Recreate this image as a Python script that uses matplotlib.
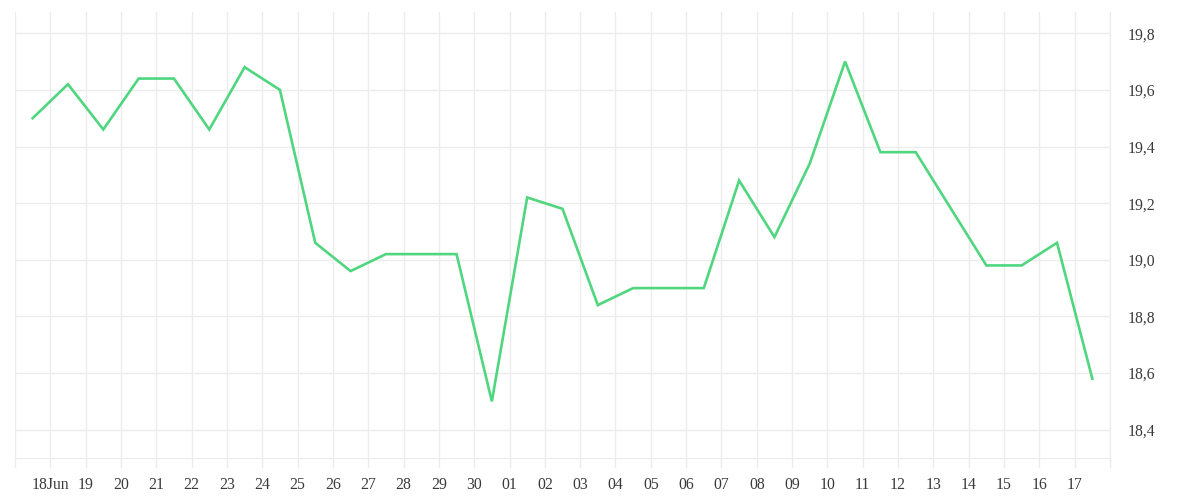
import numpy as np
import pandas as pd
import matplotlib
matplotlib.use("Agg")
import matplotlib.pyplot as plt
import matplotlib.dates as mdates

# daily readings, one per day at noon (17 Jun .. 17 Jul)
dates = pd.date_range("2024-06-17 12:00", "2024-07-17 12:00", freq="D")
values = [
    19.50, 19.62, 19.46, 19.64, 19.64, 19.46, 19.68, 19.60, 19.06, 18.96,
    19.02, 19.02, 19.02, 18.50, 19.22, 19.18, 18.84, 18.90, 18.90, 18.90,
    19.28, 19.08, 19.34, 19.70, 19.38, 19.38, 19.18, 18.98, 18.98, 19.06,
    18.58,
]
y_ticks = [18.4, 18.6, 18.8, 19.0, 19.2, 19.4, 19.6, 19.8]

grid_col = "#ececec"
text_col = "#3a3a3a"

plt.rcParams["font.family"] = ["Liberation Serif", "DejaVu Serif"]

fig = plt.figure(figsize=(12, 5), dpi=100)
ax = fig.add_axes([0.0125, 0.084, 0.9125, 0.892])

ax.plot(dates, values, color="#4fd67f", linewidth=1.9, solid_joinstyle="miter")

x0 = pd.Timestamp("2024-06-17")
x1 = pd.Timestamp("2024-07-18")
ax.set_xlim(x0, x1)
ax.set_ylim(18.3, 19.875)

day_ticks = pd.date_range(x0, x1, freq="D")
ax.set_xticks(day_ticks)
labels = []
for d in day_ticks:
    if d == x0 or d == x1:
        labels.append("")
    elif d.day == 18 and d.month == 6:
        labels.append("18Jun")
    else:
        labels.append(d.strftime("%d"))
ax.set_xticklabels(labels)

ax.yaxis.tick_right()
ax.set_yticks(y_ticks)
ax.set_yticklabels([f"{v:.1f}".replace(".", ",") for v in y_ticks])

ax.grid(True, color=grid_col, linewidth=1.0)
ax.set_axisbelow(True)

for side in ["top", "left"]:
    ax.spines[side].set_visible(False)
ax.spines["bottom"].set_color(grid_col)
ax.spines["right"].set_color(grid_col)
ax.spines["right"].set_bounds(18.3, 19.875)

ax.tick_params(axis="x", length=7.5, width=1.0, color=grid_col,
               labelsize=11.3, labelcolor=text_col, pad=6)
ax.tick_params(axis="y", length=0, labelsize=11.3, labelcolor=text_col, pad=13)

fig.savefig("out.png", dpi=100, facecolor="white")
